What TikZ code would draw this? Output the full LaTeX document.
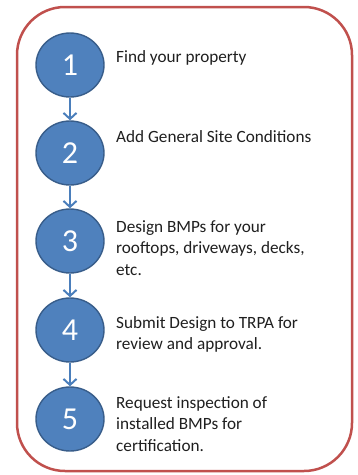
\documentclass[tikz,border=0pt]{standalone}
\usepackage{fontspec}
\setmainfont{Carlito}
\usetikzlibrary{arrows.meta,shapes.geometric}
\definecolor{stepfill}{HTML}{4F81BD}
\definecolor{stepedge}{HTML}{385D8A}
\definecolor{arrowblue}{HTML}{4A7EBB}
\definecolor{frame}{HTML}{C0504D}
\definecolor{txt}{HTML}{1F1F1F}
\tikzset{
  stepcircle/.style={ellipse, draw=stepedge, fill=stepfill, line width=1.4pt,
    minimum width=68pt, minimum height=64pt, inner sep=0pt,
    text=white, font=\fontsize{32}{32}\selectfont},
  steptext/.style={anchor=base west, align=left, inner sep=0pt, text=txt,
    font=\fontsize{17.2}{21.5}\selectfont},
  steparrow/.style={draw=arrowblue, line width=2pt,
    -{Straight Barb[length=6pt,width=13pt,line width=2pt]}},
}
\begin{document}
\begin{tikzpicture}[x=1pt,y=-1pt]
\useasboundingbox (0,0) rectangle (357,475);
\draw[frame, line width=2.5pt, rounded corners=48pt] (17,7) rectangle (352,471);
\node[stepcircle] (c1) at (70,65) {1};
\node[stepcircle] (c2) at (70,153) {2};
\node[stepcircle] (c3) at (70,241) {3};
\node[stepcircle] (c4) at (70,330) {4};
\node[stepcircle] (c5) at (70,419) {5};
\draw[steparrow] (c1.south) -- (c2.north);
\draw[steparrow] (c2.south) -- (c3.north);
\draw[steparrow] (c3.south) -- (c4.north);
\draw[steparrow] (c4.south) -- (c5.north);
\node[steptext] (t1) at (116,62) {Find your property};
\node[steptext] (t2) at (116,142) {Add General Site Conditions};
\node[steptext] (t3) at (116,275) {Design BMPs for your\\rooftops, driveways, decks,\\etc.};
\node[steptext] (t4) at (116,349.5) {Submit Design to TRPA for\\review and approval.};
\node[steptext] (t5) at (116,451) {Request inspection of\\installed BMPs for\\certification.};
\end{tikzpicture}
\end{document}
